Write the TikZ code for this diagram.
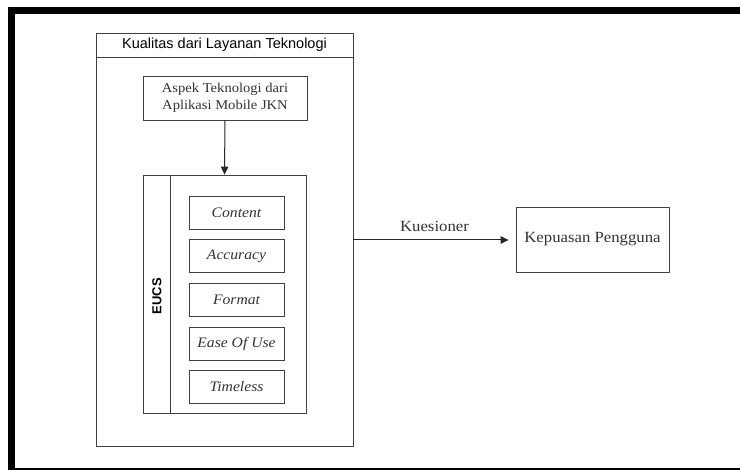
\documentclass[tikz,border=0pt]{standalone}
\usepackage{fontspec}
\setmainfont[FakeStretch=1.08]{Liberation Serif}
\setsansfont{Liberation Sans}
\usetikzlibrary{arrows.meta,positioning}
\tikzset{
  box/.style={draw=black!75, line width=0.9pt, inner sep=0pt, align=center, font=\fontsize{13}{16}\selectfont},
  item/.style={box, minimum width=95pt, minimum height=33pt, font=\fontsize{14.5}{16}\selectfont\itshape, text=black!80},
  conn/.style={draw=black!85, line width=1pt, -{Triangle[length=8pt,width=7.5pt]}},
}
\begin{document}
\begin{tikzpicture}[x=1pt,y=-1pt]
\useasboundingbox (0,0) rectangle (740,470);
\clip (0,0) rectangle (740,470);
\fill[white] (0,0) rectangle (740,470);
% outer frame
\draw[line width=7pt] (11,11) rectangle (760,472);
% container
\node[box, minimum width=257pt, minimum height=413pt] (cont) at (224.5,239.5) {};
\node[box, draw=none, font=\sffamily\fontsize{14.5}{16}\selectfont] (head) at (224.5,45) {Kualitas dari Layanan Teknologi};
\draw[draw=black!75, line width=0.9pt] (cont.north west |- 0,57) -- (cont.north east |- 0,57);
% aspek
\node[box, minimum width=164pt, minimum height=44pt, text=black!80, font=\fontsize{13.5}{17}\selectfont] (aspek) at (225,98) {Aspek Teknologi dari\\Aplikasi Mobile JKN};
% eucs
\node[box, minimum width=163pt, minimum height=238pt] (eucs) at (224.5,294) {};
\draw[draw=black!75, line width=0.9pt] (170,175) -- (170,413);
\node[font=\sffamily\bfseries\fontsize{13}{15}\selectfont, rotate=90] (eucslabel) at (157,296) {EUCS};
% items
\node[item] (content) at (236.5,212.5) {Content};
\node[item] (accuracy) at (236.5,256) {Accuracy};
\node[item] (format) at (236.5,299.5) {Format};
\node[item] (ease) at (236.5,343.5) {Ease Of Use};
\node[item] (timeless) at (236.5,386.5) {Timeless};
% kepuasan
\node[box, minimum width=153pt, minimum height=65pt, text=black!80, font=\fontsize{15.5}{18}\selectfont] (kepuasan) at (592.5,239.5) {Kepuasan Pengguna};
% connectors
\draw[conn] (aspek.south) -- (eucs.north);
\draw[conn, shorten >=7pt] (cont.east |- 0,240) -- node[above=5pt, font=\fontsize{15.5}{18}\selectfont, text=black!80] (kues) {Kuesioner} (kepuasan.west |- 0,240);
\end{tikzpicture}
\end{document}
